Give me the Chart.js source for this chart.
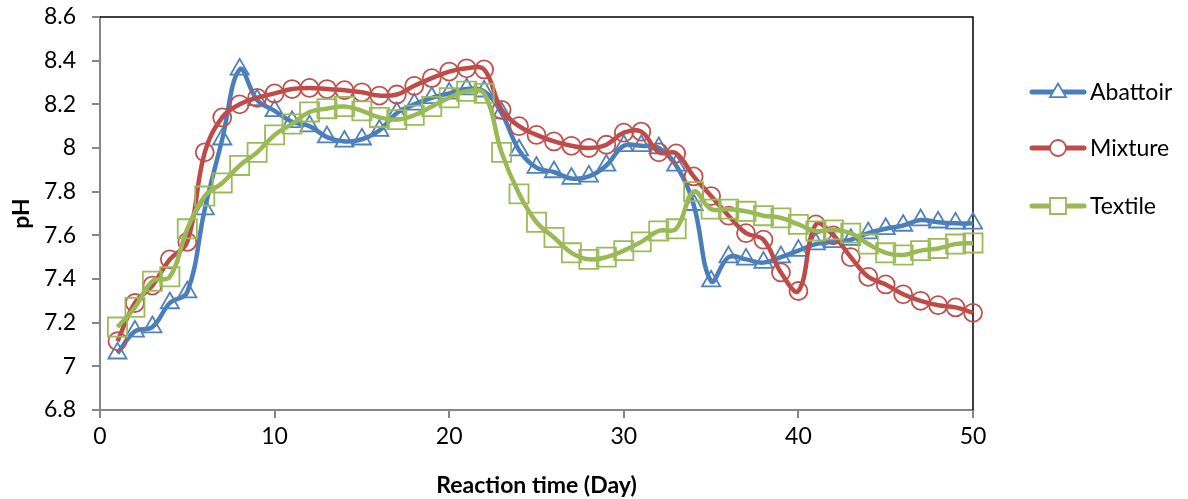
<!DOCTYPE html>
<html>
<head>
<meta charset="utf-8">
<script src="https://cdn.jsdelivr.net/npm/chart.js@4/dist/chart.umd.min.js"></script>
<style>
  html, body { margin: 0; padding: 0; background: #fff; }
  #wrap { width: 1188px; height: 499px; }
</style>
</head>
<body>
<div id="wrap"><canvas id="ph-chart" width="1188" height="499"></canvas></div>
<script>
// Reaction time (days)
const days = [1,2,3,4,5,6,7,8,9,10,11,12,13,14,15,16,17,18,19,20,21,22,23,24,25,
  26,27,28,29,30,31,32,33,34,35,36,37,38,39,40,41,42,43,44,45,46,47,48,49,50];

// pH readings per substrate
const abattoir = [7.06,7.16,7.18,7.29,7.34,7.72,8.04,8.36,8.22,8.17,
  8.12,8.10,8.05,8.03,8.04,8.08,8.16,8.20,8.23,8.25,
  8.27,8.26,8.16,7.99,7.91,7.89,7.86,7.87,7.92,8.01,
  8.01,8.00,7.92,7.74,7.39,7.50,7.49,7.475,7.50,7.53,
  7.56,7.57,7.58,7.61,7.63,7.645,7.67,7.66,7.655,7.655];
const mixture = [7.115,7.29,7.37,7.49,7.57,7.98,8.14,8.20,8.23,8.25,
  8.27,8.275,8.27,8.265,8.255,8.24,8.245,8.285,8.32,8.35,
  8.365,8.36,8.175,8.10,8.06,8.03,8.01,8.00,8.015,8.07,
  8.075,7.98,7.975,7.87,7.78,7.69,7.61,7.58,7.43,7.345,
  7.65,7.60,7.50,7.41,7.375,7.33,7.30,7.28,7.27,7.245];
const textile = [7.18,7.27,7.39,7.41,7.63,7.78,7.84,7.92,7.98,8.06,
  8.11,8.165,8.18,8.19,8.17,8.14,8.13,8.15,8.19,8.23,
  8.26,8.25,7.98,7.79,7.66,7.59,7.52,7.49,7.50,7.53,
  7.57,7.62,7.63,7.80,7.72,7.72,7.71,7.69,7.68,7.65,
  7.62,7.625,7.61,7.56,7.52,7.51,7.53,7.54,7.56,7.565];

const yTicks = [6.8,7,7.2,7.4,7.6,7.8,8,8.2,8.4,8.6];
const xTicks = [0,10,20,30,40,50];

const FONT = "Lato, 'Open Sans', sans-serif";
const FONT_SIZE = 23;
const AXIS_GREY = "#868686";

const series = [
  { label: "Abattoir", data: abattoir, line: "#4a7ebb", mark: "#4f81bd", style: "triangle", r: 10.5, order: 3 },
  { label: "Mixture",  data: mixture,  line: "#be4b48", mark: "#c0504d", style: "circle",   r: 9,    order: 2 },
  { label: "Textile",  data: textile,  line: "#98b954", mark: "#9bbb59", style: "rect",     r: 13.5, order: 1 }
];

function toPoints(values) {
  return days.map(function(d, i) { return { x: d, y: values[i] }; });
}

// small marker painter for the side legend
function drawMarker(ctx, style, x, y, size, color) {
  ctx.save();
  ctx.strokeStyle = color;
  ctx.lineWidth = 1.8;
  ctx.fillStyle = "#fff";
  ctx.beginPath();
  if (style === "triangle") {
    const h = size * 0.85;
    ctx.moveTo(x, y - h * 0.62);
    ctx.lineTo(x + size / 2, y + h * 0.38);
    ctx.lineTo(x - size / 2, y + h * 0.38);
    ctx.closePath();
  } else if (style === "circle") {
    ctx.arc(x, y, size / 2, 0, Math.PI * 2);
  } else {
    ctx.rect(x - size / 2, y - size / 2, size, size);
  }
  ctx.fill();
  ctx.stroke();
  ctx.restore();
}

const frameAndLegend = {
  id: "frameAndLegend",
  beforeDatasetsDraw(chart) {
    const { ctx, chartArea: a } = chart;
    ctx.save();
    ctx.strokeStyle = "#000";
    ctx.lineWidth = 1.5;
    ctx.beginPath();
    ctx.moveTo(a.left, a.top);
    ctx.lineTo(a.right, a.top);
    ctx.lineTo(a.right, a.bottom);
    ctx.stroke();
    ctx.restore();
  },
  afterDraw(chart) {
    const ctx = chart.ctx;
    const rows = [92, 148, 206];
    series.forEach(function(s, i) {
      const y = rows[i];
      ctx.save();
      ctx.strokeStyle = s.line;
      ctx.lineWidth = 5;
      ctx.lineCap = "round";
      ctx.beginPath();
      ctx.moveTo(1032, y);
      ctx.lineTo(1084, y);
      ctx.stroke();
      ctx.restore();
      drawMarker(ctx, s.style, 1058, y, 16, s.mark);
      ctx.save();
      ctx.fillStyle = "#000";
      ctx.font = FONT_SIZE + "px " + FONT;
      ctx.textBaseline = "middle";
      ctx.fillText(s.label, 1090, y + 1);
      ctx.restore();
    });
  }
};

const ctx = document.getElementById("ph-chart").getContext("2d");
const chart = new Chart(ctx, {
  type: "line",
  data: {
    datasets: series.map(function(s) {
      return {
        label: s.label,
        data: toPoints(s.data),
        order: s.order,
        borderColor: s.line,
        borderWidth: 4.5,
        tension: 0.4,
        fill: false,
        clip: false,
        pointStyle: s.style,
        pointRadius: s.r,
        pointHoverRadius: s.r,
        pointBorderWidth: 1.8,
        pointBorderColor: s.mark,
        pointBackgroundColor: "rgba(255,255,255,0)"
      };
    })
  },
  options: {
    responsive: false,
    animation: false,
    layout: { padding: { top: 17, right: 215, bottom: 0, left: 0 } },
    plugins: {
      legend: { display: false },
      tooltip: { enabled: false }
    },
    scales: {
      x: {
        type: "linear",
        min: 0,
        max: 50,
        afterBuildTicks: function(scale) { scale.ticks = xTicks.map(function(v) { return { value: v }; }); },
        afterFit: function(scale) {
          scale.height = 89;
          scale.paddingLeft = 0;
          scale.paddingRight = 0;
        },
        border: { color: AXIS_GREY, width: 2 },
        grid: { drawOnChartArea: false, drawTicks: true, tickLength: 8, color: AXIS_GREY, lineWidth: 2 },
        ticks: { color: "#000", padding: 5, font: { family: FONT, size: FONT_SIZE }, maxRotation: 0 },
        title: {
          display: true,
          text: "Reaction time (Day)",
          color: "#000",
          font: { family: FONT, size: FONT_SIZE, weight: "bold" },
          padding: { top: 0, bottom: 0 }
        }
      },
      y: {
        type: "linear",
        min: 6.8,
        max: 8.6,
        afterBuildTicks: function(scale) { scale.ticks = yTicks.map(function(v) { return { value: v }; }); },
        afterFit: function(scale) {
          scale.width = 100;
          scale.paddingTop = 0;
          scale.paddingBottom = 0;
        },
        border: { color: AXIS_GREY, width: 2 },
        grid: { drawOnChartArea: false, drawTicks: true, tickLength: 8, color: AXIS_GREY, lineWidth: 2 },
        ticks: {
          color: "#000",
          padding: 16,
          font: { family: FONT, size: FONT_SIZE },
          callback: function(v) { return String(Number(v.toFixed(1))); }
        },
        title: {
          display: true,
          text: "pH",
          color: "#000",
          font: { family: FONT, size: FONT_SIZE, weight: "bold" },
          padding: { top: 8, bottom: 0 }
        }
      }
    }
  },
  plugins: [frameAndLegend]
});
</script>
</body>
</html>
